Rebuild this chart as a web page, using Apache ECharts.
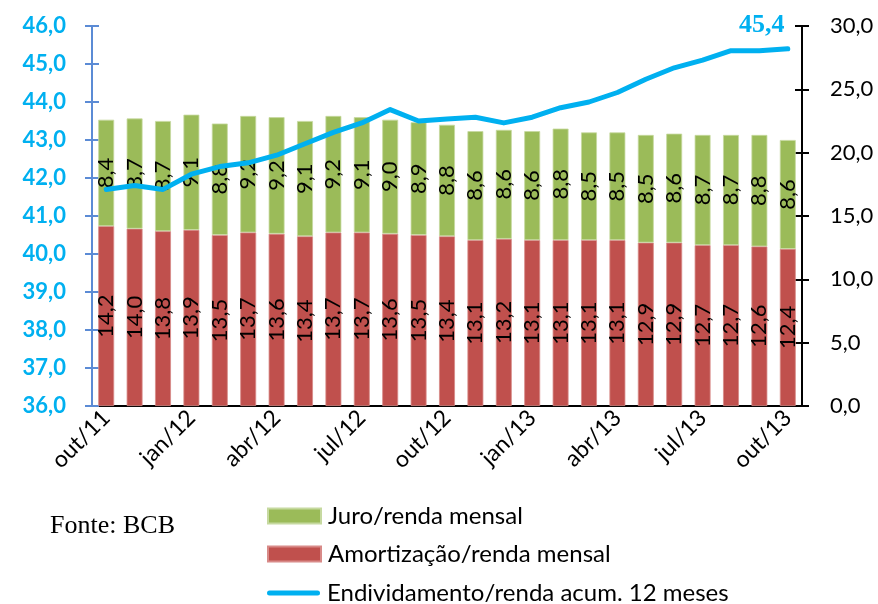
<!DOCTYPE html>
<html>
<head>
<meta charset="utf-8">
<script src="https://cdn.jsdelivr.net/npm/echarts@6/dist/echarts.min.js"></script>
<style>
  html, body { margin: 0; padding: 0; background: #fff; }
  #chart { width: 878px; height: 604px; }
</style>
</head>
<body>
<div id="chart"></div>
<script>
const months = [
  "out/11", "nov/11", "dez/11", "jan/12", "fev/12", "mar/12", "abr/12", "mai/12", "jun/12",
  "jul/12", "ago/12", "set/12", "out/12", "nov/12", "dez/12", "jan/13", "fev/13", "mar/13",
  "abr/13", "mai/13", "jun/13", "jul/13", "ago/13", "set/13", "out/13"
];
const amortizacao = [14.2, 14.0, 13.8, 13.9, 13.5, 13.7, 13.6, 13.4, 13.7, 13.7, 13.6, 13.5, 13.4,
  13.1, 13.2, 13.1, 13.1, 13.1, 13.1, 12.9, 12.9, 12.7, 12.7, 12.6, 12.4];
const juro = [8.4, 8.7, 8.7, 9.1, 8.8, 9.2, 9.2, 9.1, 9.2, 9.1, 9.0, 8.9, 8.8,
  8.6, 8.6, 8.6, 8.8, 8.5, 8.5, 8.5, 8.6, 8.7, 8.7, 8.8, 8.6];
const endividamento = [41.7, 41.8, 41.7, 42.1, 42.3, 42.4, 42.6, 42.9, 43.2, 43.45, 43.8, 43.5, 43.55,
  43.6, 43.45, 43.6, 43.85, 44.0, 44.25, 44.6, 44.9, 45.1, 45.35, 45.35, 45.4];

const names = ["Juro/renda mensal", "Amortização/renda mensal", "Endividamento/renda acum. 12 meses"];

const fmt = v => v.toFixed(1).replace(".", ",");
const FONT = "Lato";
const CYAN = "#00B0F0";

const chart = echarts.init(document.getElementById("chart"));

const lineData = endividamento.map((v, i) =>
  i === endividamento.length - 1
    ? { value: v, symbol: "circle", symbolSize: 1, label: { show: true } }
    : v
);

// one legend per row so they never wrap into columns
const legendRow = (item, top) => ({
  orient: "vertical",
  left: 262,
  top: top,
  itemWidth: 53,
  itemHeight: 15,
  textStyle: { fontFamily: FONT, fontSize: 24, color: "#000", lineHeight: 16, padding: [0, 0, 0, 2] },
  data: [item]
});

chart.setOption({
  animation: false,
  grid: { left: 92, right: 76, top: 26, bottom: 198 },
  legend: [
    legendRow({ name: names[0], icon: "rect" }, 499),
    legendRow({ name: names[1], icon: "rect" }, 537),
    legendRow({ name: names[2], icon: "path://M2.5,0 L50.5,0 A2.5,2.5 0 0 1 50.5,5 L2.5,5 A2.5,2.5 0 0 1 2.5,0 Z" }, 576)
  ],
  graphic: [{
    type: "text", left: 50, top: 513,
    style: { text: "Fonte: BCB", font: "26px 'Liberation Serif'", fill: "#000" }
  }],
  xAxis: [
    {
      type: "category",
      data: months,
      axisLine: { lineStyle: { color: "#000", width: 2 } },
      axisTick: { interval: 2, length: 7, lineStyle: { color: "#000", width: 2 } },
      axisLabel: {
        interval: 2, rotate: 45, margin: 8,
        fontFamily: FONT, fontSize: 23, color: "#000"
      }
    },
    {
      type: "category",
      data: months,
      position: "bottom",
      axisLine: { show: false },
      axisTick: { interval: 2, inside: true, length: 7, lineStyle: { color: "#000", width: 2 } },
      axisLabel: { show: false }
    }
  ],
  yAxis: [
    {
      type: "value", position: "left", min: 36, max: 46, interval: 1,
      axisLine: { show: true, lineStyle: { color: "#5B8BD5", width: 2 } },
      axisTick: { show: true, length: 7, lineStyle: { color: "#5B8BD5", width: 2 } },
      axisLabel: { formatter: fmt, margin: 26, fontFamily: FONT, fontWeight: "bold", fontSize: 22, color: CYAN },
      splitLine: { show: false }
    },
    {
      type: "value", position: "right", min: 0, max: 30, interval: 5,
      axisLine: { show: true, lineStyle: { color: "#000", width: 2 } },
      axisTick: { show: true, length: 7, lineStyle: { color: "#000", width: 2 } },
      axisLabel: { formatter: fmt, margin: 28, fontFamily: FONT, fontSize: 22, color: "#000" },
      splitLine: { show: false }
    },
    {
      type: "value", position: "left", min: 36, max: 46, interval: 1,
      axisLine: { show: false },
      axisTick: { show: true, inside: true, length: 7, lineStyle: { color: "#5B8BD5", width: 2 } },
      axisLabel: { show: false },
      splitLine: { show: false }
    },
    {
      type: "value", position: "right", min: 0, max: 30, interval: 5,
      axisLine: { show: false },
      axisTick: { show: true, inside: true, length: 7, lineStyle: { color: "#000", width: 2 } },
      axisLabel: { show: false },
      splitLine: { show: false }
    }
  ],
  series: [
    {
      name: names[1],
      type: "bar",
      stack: "renda",
      yAxisIndex: 1,
      barCategoryGap: "44%",
      data: amortizacao,
      itemStyle: { color: "#C0504D", borderColor: "#D88A88", borderWidth: 0.8 },
      label: {
        show: true, position: "inside", rotate: 90, formatter: p => fmt(p.value),
        fontFamily: FONT, fontSize: 22, color: "#000"
      }
    },
    {
      name: names[0],
      type: "bar",
      stack: "renda",
      yAxisIndex: 1,
      data: juro,
      itemStyle: { color: "#9BBB59", borderColor: "#C6D9A0", borderWidth: 0.8 },
      label: {
        show: true, position: "inside", rotate: 90, formatter: p => fmt(p.value),
        fontFamily: FONT, fontSize: 22, color: "#000"
      }
    },
    {
      name: names[2],
      type: "line",
      yAxisIndex: 0,
      symbol: "none",
      data: lineData,
      lineStyle: { color: CYAN, width: 5, cap: "round", join: "round" },
      itemStyle: { color: CYAN },
      label: {
        show: false, position: "top", distance: 10, offset: [-26, 0],
        formatter: p => fmt(p.value),
        fontFamily: "Liberation Serif", fontWeight: "bold", fontSize: 26, color: CYAN
      },
      z: 3
    }
  ]
});
</script>
</body>
</html>
